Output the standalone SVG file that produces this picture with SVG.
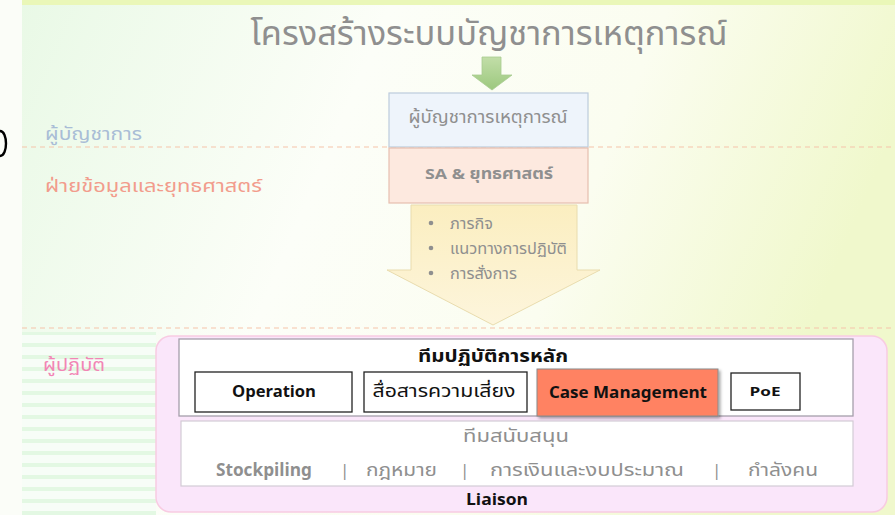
<svg xmlns="http://www.w3.org/2000/svg" width="895" height="515" viewBox="0 0 895 515">
<defs>
<style>
.th{font-family:"Noto Sans Thai","Liberation Sans","DejaVu Sans",sans-serif}
.b{font-weight:bold}
.c{text-anchor:middle}
.g{fill:#8f8f8f}
.k{fill:#111}
.dash{stroke:#f6c4aa;stroke-width:1.2;stroke-dasharray:5,4;fill:none}
.wbox{fill:#fff;stroke:#222;stroke-width:1.3}
</style>
<linearGradient id="bg" x1="0" y1="0" x2="1" y2="0.25">
<stop offset="0" stop-color="#e9f9e6"/>
<stop offset="0.4" stop-color="#fcfef8"/>
<stop offset="0.7" stop-color="#fbfdf0"/>
<stop offset="1" stop-color="#f0f8cc"/>
</linearGradient>
<linearGradient id="ga" x1="0" y1="0" x2="0" y2="1">
<stop offset="0" stop-color="#c2dea8"/>
<stop offset="1" stop-color="#9cc87e"/>
</linearGradient>
<linearGradient id="ya" x1="0" y1="0" x2="0" y2="1">
<stop offset="0" stop-color="#fbeec0"/>
<stop offset="1" stop-color="#fdf5dc"/>
</linearGradient>
<pattern id="stripes" width="10" height="12" patternUnits="userSpaceOnUse">
<rect width="10" height="12" fill="#f7fdf7"/>
<rect y="7" width="10" height="4" fill="#e3f8e3"/>
</pattern>
<filter id="sh" x="-10%" y="-10%" width="130%" height="140%">
<feDropShadow dx="2" dy="2" stdDeviation="1.5" flood-color="#000" flood-opacity="0.35"/>
</filter>
</defs>
<rect width="895" height="515" fill="#fbfdf8"/>
<rect x="22" y="0" width="873" height="515" fill="url(#bg)"/>
<rect x="22" y="0" width="873" height="5" fill="#eaf7b8"/>
<rect x="22" y="332" width="134" height="183" fill="url(#stripes)"/>
<path d="M0,131 C8,131 8,156 0,156" fill="none" stroke="#000" stroke-width="2.4"/>

<g id="title">
<text class="th c g" x="489" y="45" font-size="34" textLength="477" lengthAdjust="spacingAndGlyphs">โครงสร้างระบบบัญชาการเหตุการณ์</text>
</g>

<g id="lanes">
<line class="dash" x1="22" y1="147" x2="895" y2="147"/>
<line class="dash" x1="22" y1="328" x2="895" y2="328"/>
<text class="th" x="45" y="140" font-size="18" fill="#a9bdd6" textLength="97" lengthAdjust="spacingAndGlyphs">ผู้บัญชาการ</text>
<text class="th" x="45" y="192" font-size="18" fill="#f29c8c" textLength="217" lengthAdjust="spacingAndGlyphs">ฝ่ายข้อมูลและยุทธศาสตร์</text>
<text class="th" x="43" y="371" font-size="18" fill="#f285b5" textLength="62" lengthAdjust="spacingAndGlyphs">ผู้ปฏิบัติ</text>
</g>

<g id="connectors">
<path d="M482,57 H501 V75 H512 L492,90 L472,75 H482 Z" fill="url(#ga)" stroke="#a8cc90" stroke-width="0.8"/>
<path d="M411,205 H577 V270 H600 L493,325 L387,270 H411 Z" fill="url(#ya)" stroke="#e9dcae" stroke-width="1"/>
</g>

<g id="commander">
<rect x="389" y="93" width="199" height="54" fill="#eef4fb" stroke="#bccbdd" stroke-width="1.2"/>
<text class="th c g" x="488" y="123" font-size="17" textLength="159" lengthAdjust="spacingAndGlyphs">ผู้บัญชาการเหตุการณ์</text>
</g>

<g id="sa">
<rect x="389" y="148" width="199" height="55" fill="#fde9df" stroke="#e6bfb0" stroke-width="1.2"/>
<text class="th c g b" x="489" y="179" font-size="15" textLength="128" lengthAdjust="spacingAndGlyphs">SA &amp; ยุทธศาสตร์</text>
</g>

<g id="directives">
<g class="th g" font-size="15">
<circle cx="431" cy="223" r="2.3" fill="#8f8f8f"/>
<text x="450" y="229" textLength="43" lengthAdjust="spacingAndGlyphs">ภารกิจ</text>
<circle cx="431" cy="248" r="2.3" fill="#8f8f8f"/>
<text x="450" y="254" textLength="117" lengthAdjust="spacingAndGlyphs">แนวทางการปฏิบัติ</text>
<circle cx="431" cy="273" r="2.3" fill="#8f8f8f"/>
<text x="450" y="279" textLength="67" lengthAdjust="spacingAndGlyphs">การสั่งการ</text>
</g>
</g>

<g id="operators">
<rect x="156" y="336" width="731" height="176" rx="15" fill="#fae6fa" stroke="#f8cbe2" stroke-width="1.5"/>
</g>

<g id="mainteam">
<rect x="179" y="339" width="674" height="77" fill="#fff" stroke="#a59fab" stroke-width="1.3"/>
<text class="th c k b" x="493" y="362" font-size="17" textLength="150" lengthAdjust="spacingAndGlyphs">ทีมปฏิบัติการหลัก</text>
</g>

<g id="operation">
<rect class="wbox" x="195" y="372" width="157" height="40"/>
<text class="th c k b" x="274" y="397" font-size="16" textLength="84" lengthAdjust="spacingAndGlyphs">Operation</text>
</g>

<g id="riskcomm">
<rect class="wbox" x="364" y="372" width="163" height="40"/>
<text class="th c k" x="444" y="397" font-size="17" textLength="143" lengthAdjust="spacingAndGlyphs">สื่อสารความเสี่ยง</text>
</g>

<g id="casemgmt">
<rect x="537" y="369" width="181" height="47" fill="#ff8262" stroke="#8a8a8a" stroke-width="1" filter="url(#sh)"/>
<text class="th c k b" x="628" y="398" font-size="16" textLength="158" lengthAdjust="spacingAndGlyphs">Case Management</text>
</g>

<g id="poe">
<rect class="wbox" x="731" y="373" width="69" height="37"/>
<text class="th c k b" x="765" y="396" font-size="13" textLength="31" lengthAdjust="spacingAndGlyphs">PoE</text>
</g>

<g id="support">
<rect x="181" y="421" width="672" height="65" fill="#fff" stroke="#d3cbd5" stroke-width="1.2"/>
<text class="th c g" x="516" y="442" font-size="17" textLength="106" lengthAdjust="spacingAndGlyphs">ทีมสนับสนุน</text>
<g class="th g" font-size="17">
<text class="b" x="216" y="476" textLength="96" lengthAdjust="spacingAndGlyphs">Stockpiling</text>
<text x="340" y="476">|</text>
<text x="366" y="476" textLength="71" lengthAdjust="spacingAndGlyphs">กฎหมาย</text>
<text x="460" y="476">|</text>
<text x="490" y="476" textLength="194" lengthAdjust="spacingAndGlyphs">การเงินและงบประมาณ</text>
<text x="712" y="476">|</text>
<text x="748" y="476" textLength="70" lengthAdjust="spacingAndGlyphs">กำลังคน</text>
</g>
</g>

<g id="liaison">
<text class="th c k b" x="497" y="505" font-size="16" textLength="62" lengthAdjust="spacingAndGlyphs">Liaison</text>
</g>
</svg>
